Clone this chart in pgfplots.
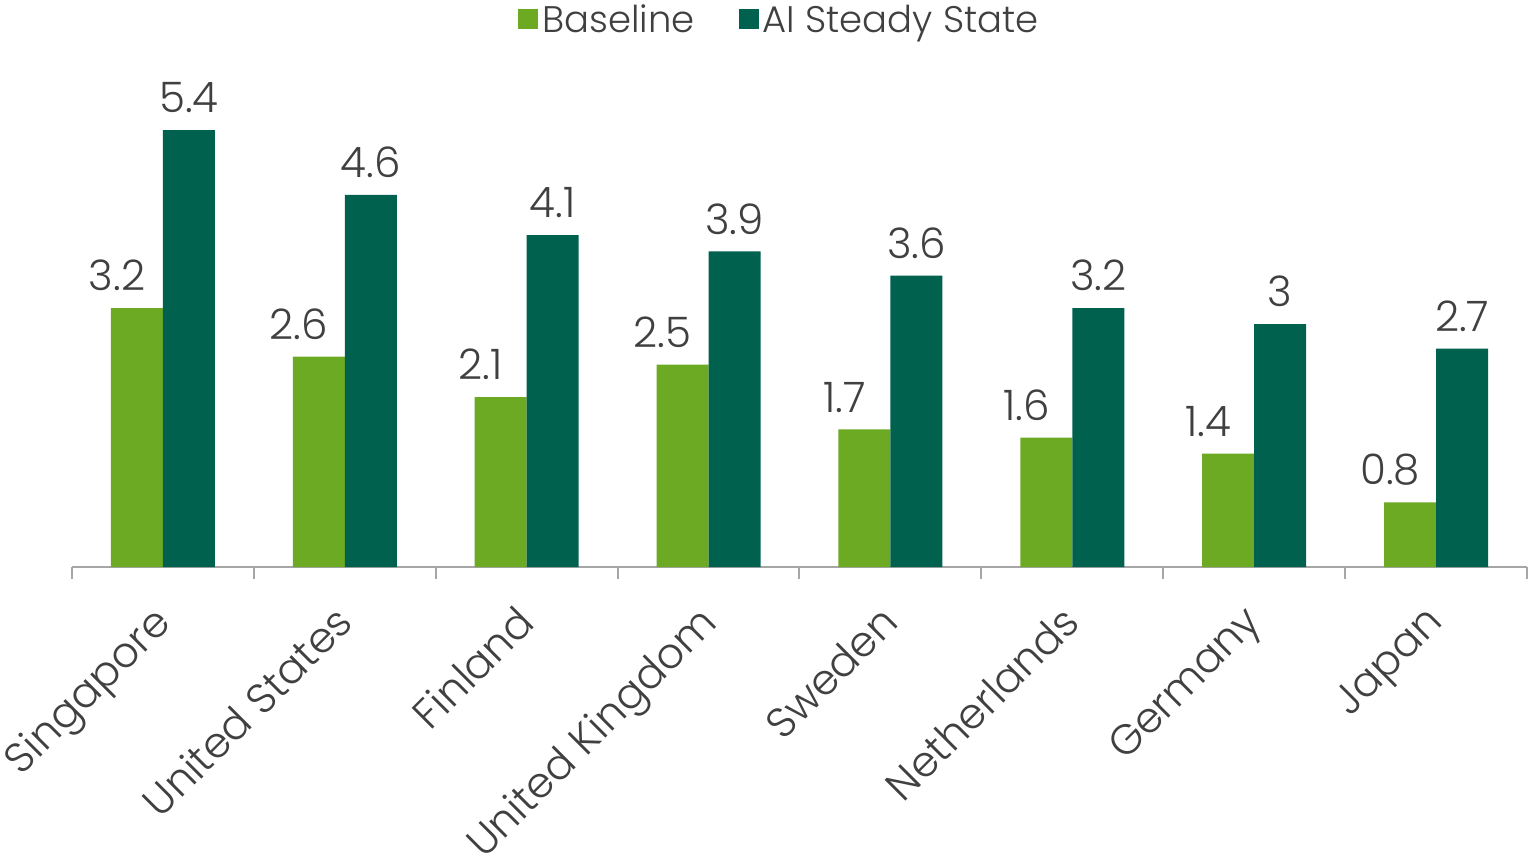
\documentclass[border=0pt]{standalone}
\usepackage{pgfplots}
\pgfplotsset{compat=1.18}
\usepackage{fontspec}
\setmainfont{Poppins}[UprightFont=* Light]
\definecolor{lg}{HTML}{6DAA24}
\definecolor{dg}{HTML}{00614F}
\definecolor{txt}{HTML}{404040}
\definecolor{axc}{HTML}{A6A6A6}
\begin{document}
\begin{tikzpicture}
\useasboundingbox (-36pt,-144.5pt) rectangle (729.5pt,283.5pt);
\begin{axis}[
  at={(0,0)}, anchor=south west,
  scale only axis, width=727.5pt, height=263pt,
  ybar=0pt, bar width=26pt,
  xmin=-0.5, xmax=7.5, ymin=0, ymax=6.5,
  axis x line*=bottom, axis y line=none,
  x axis line style={draw=axc, line width=1pt, -},
  xtick={0,...,7},
  xticklabels={Singapore,United States,Finland,United Kingdom,Sweden,Netherlands,Germany,Japan},
  major x tick style={draw=none},
  minor xtick={-0.5,0.5,...,7.5},
  minor x tick style={draw=axc, line width=1pt},
  minor tick length=6pt,
  tick align=outside,
  xticklabel style={rotate=45, anchor=north east, font=\fontsize{21}{25}\selectfont, text=txt, yshift=-1.8pt, xshift=-10.5pt},
  /pgf/number format/assume math mode=true,
  nodes near coords,
  nodes near coords style={font=\fontsize{21}{25}\selectfont, text=txt, /pgf/number format/fixed, yshift=5pt},
  legend columns=2,
  legend style={draw=none, at={(rel axis cs:0.487,1)}, anchor=center, yshift=10.5pt,
    font=\fontsize{18.5}{22}\selectfont, text=txt,
    /tikz/every even column/.append style={column sep=20pt}},
  legend image code/.code={\fill[#1] (0pt,-4.5pt) rectangle (10pt,5.5pt);},
]
\addplot[draw=none, fill=lg, nodes near coords style={xshift=-10pt}] coordinates {(0,3.2) (1,2.6) (2,2.1) (3,2.5) (4,1.7) (5,1.6) (6,1.4) (7,0.8)};
\addlegendentry{Baseline}
\addplot[draw=none, fill=dg] coordinates {(0,5.4) (1,4.6) (2,4.1) (3,3.9) (4,3.6) (5,3.2) (6,3) (7,2.7)};
\addlegendentry{AI Steady State}
\end{axis}
\end{tikzpicture}
\end{document}
